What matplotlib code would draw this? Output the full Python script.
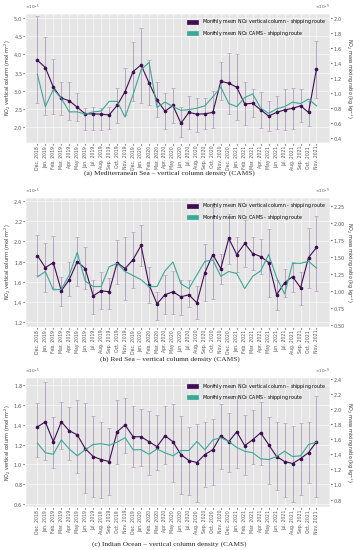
import numpy as np
import matplotlib
matplotlib.use("Agg")
import matplotlib.pyplot as plt
from matplotlib.patches import Patch

plt.style.use("ggplot")
plt.rcParams["axes.formatter.use_mathtext"] = True
plt.rcParams["font.family"] = "DejaVu Sans"

months = ["Dec. 2018", "Jan. 2019", "Feb. 2019", "Mar. 2019", "Apr. 2019", "May 2019",
          "Jun. 2019", "Jul. 2019", "Aug. 2019", "Sep. 2019", "Oct. 2019", "Nov. 2019",
          "Dec. 2019", "Jan. 2020", "Feb. 2020", "Mar. 2020", "Apr. 2020", "May 2020",
          "Jun. 2020", "Jul. 2020", "Aug. 2020", "Sep. 2020", "Oct. 2020", "Nov. 2020",
          "Dec. 2020", "Jan. 2021", "Feb. 2021", "Mar. 2021", "Apr. 2021", "May 2021",
          "Jun. 2021", "Jul. 2021", "Aug. 2021", "Sep. 2021", "Oct. 2021", "Nov. 2021"]

# (a) Mediterranean Sea  (vertical column x1e-5 mol m-2, CAMS x1e-9 kg/kg)
med_vc = [3.84, 3.64, 3.10, 2.80, 2.73, 2.55, 2.37, 2.37, 2.36, 2.34, 2.60, 2.98,
          3.53, 3.71, 3.22, 2.75, 2.44, 2.60, 2.11, 2.41, 2.36, 2.37, 2.41, 3.26,
          3.21, 3.10, 2.64, 2.66, 2.48, 2.31, 2.41, 2.48, 2.52, 2.59, 2.41, 3.60]
med_hi = [5.04, 4.48, 3.87, 3.25, 3.25, 2.95, 2.53, 2.57, 2.53, 2.55, 3.07, 3.62,
          4.33, 4.73, 3.85, 3.23, 2.95, 3.07, 2.55, 2.86, 2.80, 2.80, 2.99, 3.80,
          4.05, 4.01, 3.23, 3.04, 2.97, 2.73, 2.87, 3.04, 3.09, 3.04, 2.73, 4.38]
med_lo = [2.66, 2.33, 2.37, 2.33, 2.21, 2.18, 1.93, 1.93, 1.93, 1.95, 2.12, 2.33,
          2.73, 2.68, 2.62, 2.28, 1.95, 2.12, 1.73, 1.95, 1.88, 1.95, 1.99, 2.75,
          2.37, 2.20, 2.06, 2.28, 1.99, 1.90, 1.95, 1.93, 1.95, 2.15, 2.04, 2.80]
med_cams = [1.25, 0.82, 1.05, 0.93, 0.75, 0.75, 0.72, 0.75, 0.76, 0.89, 0.89, 0.68,
            0.98, 1.31, 1.41, 0.81, 0.88, 0.82, 0.77, 0.78, 0.80, 0.83, 0.95, 1.08,
            0.86, 0.82, 0.94, 0.99, 0.80, 0.73, 0.79, 0.82, 0.88, 0.86, 0.92, 0.83]

# (b) Red Sea
red_vc = [1.86, 1.74, 1.79, 1.51, 1.62, 1.80, 1.73, 1.46, 1.51, 1.50, 1.79, 1.73,
          1.82, 1.96, 1.57, 1.38, 1.47, 1.50, 1.45, 1.47, 1.39, 1.69, 1.87, 1.73,
          2.03, 1.87, 1.98, 1.88, 1.85, 1.79, 1.47, 1.59, 1.65, 1.54, 1.84, 1.94]
red_hi = [2.06, 1.98, 2.05, 1.65, 1.80, 2.04, 1.94, 1.62, 1.70, 1.64, 2.01, 2.04,
          2.09, 2.16, 1.75, 1.50, 1.67, 1.71, 1.62, 1.62, 1.56, 1.97, 2.34, 1.88,
          2.27, 2.04, 2.21, 2.04, 2.02, 2.12, 1.62, 1.73, 1.80, 1.70, 2.13, 2.25]
red_lo = [1.67, 1.50, 1.54, 1.36, 1.46, 1.56, 1.53, 1.28, 1.33, 1.33, 1.58, 1.42,
          1.54, 1.76, 1.39, 1.22, 1.28, 1.28, 1.27, 1.35, 1.23, 1.41, 1.43, 1.58,
          1.78, 1.70, 1.75, 1.72, 1.68, 1.45, 1.32, 1.45, 1.50, 1.37, 1.54, 1.51]
red_cams = [1.21, 1.29, 1.02, 1.03, 1.24, 1.57, 1.15, 1.07, 1.07, 1.36, 1.41, 1.29,
            1.23, 1.17, 1.07, 1.07, 1.30, 1.43, 1.11, 1.04, 1.24, 1.44, 1.46, 1.22,
            1.29, 1.26, 1.04, 1.22, 1.30, 1.54, 1.20, 0.96, 1.41, 1.41, 1.44, 1.34]

# (c) Indian Ocean
ind_vc = [1.38, 1.43, 1.23, 1.43, 1.34, 1.30, 1.16, 1.08, 1.05, 1.03, 1.33, 1.40,
          1.28, 1.28, 1.23, 1.18, 1.29, 1.23, 1.10, 1.04, 1.02, 1.10, 1.15, 1.29,
          1.23, 1.33, 1.19, 1.25, 1.32, 1.20, 1.08, 1.03, 1.01, 1.06, 1.12, 1.23]
ind_hi = [1.62, 1.83, 1.48, 1.63, 1.58, 1.65, 1.62, 1.49, 1.43, 1.37, 1.65, 1.67,
          1.59, 1.56, 1.54, 1.50, 1.59, 1.61, 1.49, 1.38, 1.41, 1.43, 1.46, 1.61,
          1.52, 1.69, 1.50, 1.55, 1.63, 1.48, 1.43, 1.42, 1.39, 1.42, 1.43, 1.69]
ind_lo = [1.08, 1.05, 0.96, 1.16, 1.05, 0.91, 0.71, 0.67, 0.66, 0.69, 1.01, 1.12,
          0.97, 0.98, 0.89, 0.94, 1.00, 0.82, 0.70, 0.69, 0.62, 0.77, 0.79, 0.95,
          0.92, 0.96, 0.89, 1.00, 0.99, 0.80, 0.74, 0.67, 0.62, 0.69, 0.81, 0.67]
ind_cams = [1.55, 1.42, 1.40, 1.59, 1.47, 1.38, 1.46, 1.53, 1.54, 1.52, 1.56, 1.62,
            1.46, 1.46, 1.40, 1.47, 1.42, 1.38, 1.45, 1.45, 1.57, 1.46, 1.59, 1.62,
            1.57, 1.49, 1.44, 1.42, 1.34, 1.33, 1.37, 1.44, 1.37, 1.38, 1.53, 1.56]

panels = [
    ("(a) Mediterranean Sea \u2013 vertical column density (CAMS)",
     med_vc, med_hi, med_lo, med_cams, (1.57, 5.13), np.arange(2.0, 5.01, 0.5),
     (0.335, 2.065), np.arange(0.4, 2.01, 0.2)),
    ("(b) Red Sea \u2013 vertical column density (CAMS)",
     red_vc, red_hi, red_lo, red_cams, (1.15, 2.44), np.arange(1.2, 2.41, 0.2),
     (0.477, 2.38), np.arange(0.5, 2.26, 0.25)),
    ("(c) Indian Ocean \u2013 vertical column density (CAMS)",
     ind_vc, ind_hi, ind_lo, ind_cams, (0.57, 1.88), np.arange(0.6, 1.81, 0.2),
     (0.70, 2.42), np.arange(0.8, 2.41, 0.2)),
]

purple = "#3f0d52"
teal = "#3aa896"
errc = "#a892b8"

fig = plt.figure(figsize=(3.53, 5.5), dpi=100)
bottoms = [0.740, 0.4055, 0.078]
caption_y = [0.680, 0.342, 0.005]
x = np.arange(len(months))

for k, (cap, vc, hi, lo, cams, ylim, yt, y2lim, y2t) in enumerate(panels):
    vc = np.array(vc) * 1e-5
    hi = np.array(hi) * 1e-5
    lo = np.array(lo) * 1e-5
    cams = np.array(cams) * 1e-9
    ax = fig.add_axes([0.072, bottoms[k], 0.863, 0.236])
    ax2 = ax.twinx()
    ax.errorbar(x, vc, yerr=[vc - lo, hi - vc], fmt="none", ecolor=errc,
                elinewidth=0.7, capsize=1.5, capthick=0.5, alpha=0.8, zorder=2)
    ax.plot(x, vc, color=purple, lw=0.8, marker="o", ms=1.6, zorder=3)
    ax2.plot(x, cams, color=teal, lw=0.8)
    ax.set_xlim(-1.5, 36.7)
    ax.set_ylim(ylim[0] * 1e-5, ylim[1] * 1e-5)
    ax.set_yticks(yt * 1e-5)
    ax2.set_ylim(y2lim[0] * 1e-9, y2lim[1] * 1e-9)
    ax2.set_yticks(y2t * 1e-9)
    ax2.grid(False)
    ax.set_xticks(x)
    ax.set_xticklabels(months, rotation=90, fontsize=3.3)
    ax.tick_params(axis="y", labelsize=3.5, length=1.2, pad=0.6)
    ax.tick_params(axis="x", length=1.2, pad=0.8)
    ax2.tick_params(axis="y", labelsize=3.5, length=1.2, pad=0.6)
    ax.yaxis.get_offset_text().set_fontsize(3.0)
    ax2.yaxis.get_offset_text().set_fontsize(3.0)
    ax.set_ylabel("NO$_2$ vertical column (mol m$^{-2}$)", fontsize=3.5,
                  color="#333333", va="center")
    ax.yaxis.set_label_coords(-0.058, 0.5)
    ax2.set_ylabel("NO$_2$ mass mixing ratio (kg kg$^{-1}$)", fontsize=3.5,
                   color="#333333", rotation=270, va="center")
    ax2.yaxis.set_label_coords(1.062, 0.5)
    ax.grid(True, color="white", lw=0.4)
    handles = [Patch(color=purple), Patch(color=teal)]
    ax2.legend(handles, ["Monthly mean NO$_2$ vertical column - shipping route",
                         "Monthly mean NO$_2$ CAMS - shipping route"],
               loc="upper right", fontsize=3.4, frameon=False,
               handlelength=2.2, handleheight=0.9)
    fig.text(0.48, caption_y[k], cap, ha="center", va="bottom",
             fontsize=5.3, family="Liberation Serif", color="#222222")

fig.savefig("out.png", dpi=100)
